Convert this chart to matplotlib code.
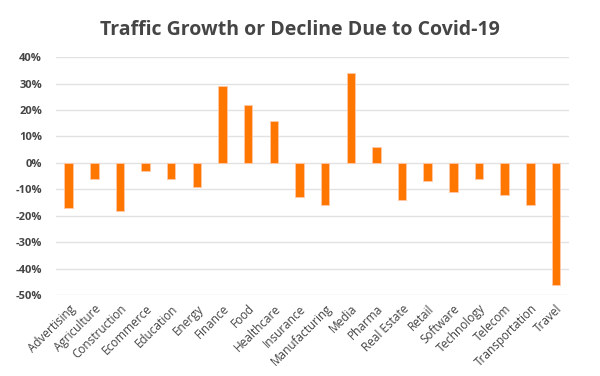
import matplotlib.pyplot as plt
import numpy as np

categories = ["Advertising", "Agriculture", "Construction", "Ecommerce", "Education",
              "Energy", "Finance", "Food", "Healthcare", "Insurance", "Manufacturing",
              "Media", "Pharma", "Real Estate", "Retail", "Software", "Technology",
              "Telecom", "Transportation", "Travel"]
growth = [-17, -6, -18, -3, -6, -9, 29, 22, 16, -13, -16, 34, 6, -14, -7, -11, -6, -12, -16, -46]
yticks = [40, 30, 20, 10, 0, -10, -20, -30, -40, -50]

plt.rcParams['font.family'] = ['Open Sans', 'DejaVu Sans']

fig = plt.figure(figsize=(6, 3.76), dpi=100)
ax = fig.add_axes([0.093, 0.215, 0.855, 0.633])

x = np.arange(len(categories))
ax.bar(x, growth, width=0.33, color='#FF7600', edgecolor='#FFC9A8', linewidth=0.6, zorder=3)

ax.set_ylim(-50, 40)
ax.set_xlim(-0.5, len(categories) - 0.5)
ax.set_yticks(yticks)
ax.set_yticklabels([f"{v}%" for v in yticks], fontsize=8, fontweight='bold', color='#444444')
ax.set_xticks(x)
ax.set_xticklabels(categories, rotation=45, ha='right', rotation_mode='anchor',
                   fontsize=8.5, color='#444444')
ax.tick_params(length=0, axis='both')
ax.tick_params(axis='y', pad=10)
ax.tick_params(axis='x', pad=5)
ax.grid(axis='y', color='#E2E2E2', linewidth=1, zorder=0)
for s in ax.spines.values():
    s.set_visible(False)

fig.text(0.5, 0.92, "Traffic Growth or Decline Due to Covid-19", ha='center', va='center',
         fontsize=14, fontweight='bold', color='#454545')

fig.savefig("out.png", dpi=100)
